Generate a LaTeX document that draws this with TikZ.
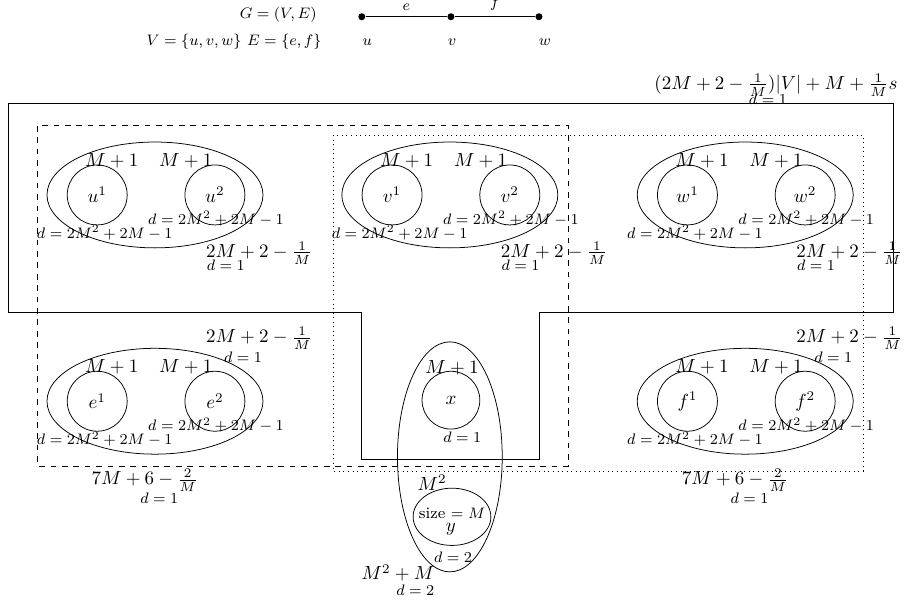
\documentclass[tikz,border=0pt]{standalone}
\usepackage{amsmath}
\usetikzlibrary{positioning,shapes.geometric}
\newcommand{\dfont}{\fontsize{8.4}{10}\selectfont}

\begin{document}
\begin{tikzpicture}[
  vtx/.style={circle, fill=black, inner sep=0pt, minimum size=1.3mm},
  gadget/.style={ellipse, draw, inner sep=0pt, minimum width=40mm, minimum height=19.6mm},
  half/.style={circle, draw, inner sep=0pt, minimum size=11.1mm},
  wt/.style={inner sep=0pt},
  dl/.style={inner sep=0pt, font=\dfont},
  elbl/.style={font=\dfont},
]
\useasboundingbox (0,0) rectangle (16.74,-11.17);

% ---- the graph G ----
\node[vtx] (pu) at (6.70,-0.31) {};
\node[vtx] (pv) at (8.35,-0.31) {};
\node[vtx] (pw) at (9.98,-0.31) {};
\draw (pu) -- node[elbl, above] (le) {$e$} (pv);
\draw (pv) -- node[elbl, above] (lf) {$f$} (pw);
\node[dl] (lu) at (6.80,-0.78) {$u$};
\node[dl] (lv) at (8.37,-0.78) {$v$};
\node[dl] (lw) at (10.09,-0.78) {$w$};
\node[dl, anchor=east] (gname) at (5.87,-0.28) {$G=(V,E)$};
\node[dl, anchor=east] (gsets) at (5.96,-0.78) {$V=\{u,v,w\}\ E=\{e,f\}$};

% ---- regions ----
\draw (0.15,-1.91) -- (16.54,-1.91) -- (16.54,-5.78) -- (9.98,-5.78) -- (9.98,-8.50)
      -- (6.70,-8.50) -- (6.70,-5.78) -- (0.15,-5.78) -- cycle;
\draw[dashed] (0.70,-2.33) rectangle (10.52,-8.63);
\draw[dotted] (6.17,-2.50) rectangle (15.98,-8.72);
\node[wt] (wtot) at (14.37,-1.57) {$(2M+2-\frac{1}{M})|V|+M+\frac{1}{M}s$};
\node[dl] (dtot) at (14.22,-1.83) {$d=1$};

% ---- vertex and edge gadgets ----
\foreach \g/\gx/\gy in {u/2.87/-3.61, v/8.33/-3.61, w/13.80/-3.61, e/2.87/-7.43, f/13.80/-7.43}{
  \begin{scope}[shift={(\gx,\gy)}]
    \node[gadget] (gad\g) at (0,0) {};
    \node[half] (\g1) at (-1.07,0) {$\g^1$};
    \node[half] (\g2) at (1.11,0) {$\g^2$};
    \node[wt] (m\g1) at (-0.80,0.63) {$M+1$};
    \node[wt] (m\g2) at (0.57,0.63) {$M+1$};
    \node[dl] (d\g1) at (-0.93,-0.70) {$d=2M^2+2M-1$};
    \node[dl] (d\g2) at (1.13,-0.44) {$d=2M^2+2M-1$};
  \end{scope}
}
\foreach \g in {u,v,w}{
  \node[wt] (w\g) at ([shift={(1.93,-1.07)}]gad\g.center) {$2M+2-\frac{1}{M}$};
  \node[dl] (dw\g) at ([shift={(1.31,-1.31)}]gad\g.center) {$d=1$};
}
\foreach \g in {e,f}{
  \node[wt] (w\g) at ([shift={(1.93,1.17)}]gad\g.center) {$2M+2-\frac{1}{M}$};
  \node[dl] (dw\g) at ([shift={(1.63,0.81)}]gad\g.center) {$d=1$};
  \node[wt] (s\g) at ([shift={(-0.19,-1.46)}]gad\g.center) {$7M+6-\frac{2}{M}$};
  \node[dl] (ds\g) at ([shift={(0.08,-1.80)}]gad\g.center) {$d=1$};
}

% ---- the x/y gadget ----
\node[gadget, minimum width=19.4mm, minimum height=42.6mm] (gadx) at (8.33,-8.46) {};
\node[half, minimum size=10.7mm] (x) at (8.35,-7.41) {$x$};
\node[wt] (wx) at (8.37,-6.81) {$M+1$};
\node[dl] (dx) at (8.56,-8.09) {$d=1$};
\node[wt] (wy) at (8.00,-8.94) {$M^2$};
\node[gadget, minimum width=14.4mm, minimum height=10.6mm] (y) at (8.37,-9.57) {};
\node[dl] (sy) at (8.37,-9.50) {size $=M$};
\node[wt] (ly) at (8.35,-9.80) {$y$};
\node[dl] (dy) at (8.39,-10.31) {$d=2$};
\node[wt] (wxy) at (7.37,-10.61) {$M^2+M$};
\node[dl] (dxy) at (7.69,-10.93) {$d=2$};
\end{tikzpicture}
\end{document}
